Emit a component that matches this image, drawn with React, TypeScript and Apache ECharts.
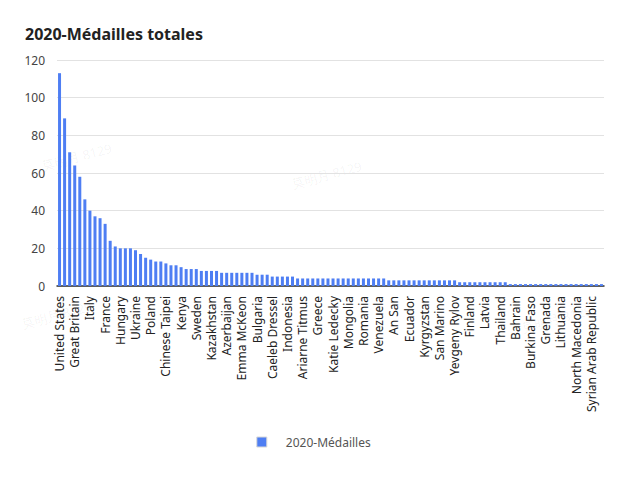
import React, { useEffect, useRef } from "react";
import * as echarts from "echarts";

const categories: string[] = [
  "United States", "China", "ROC", "Great Britain", "Japan", "Australia",
  "Italy", "Germany", "Netherlands", "France", "Canada", "Brazil",
  "Hungary", "New Zealand", "South Korea", "Ukraine", "Spain", "Cuba",
  "Poland", "Switzerland", "Turkey", "Chinese Taipei", "Czech Republic", "Denmark",
  "Kenya", "Jamaica", "Serbia", "Sweden", "Croatia", "Norway",
  "Kazakhstan", "Georgia", "Belarus", "Azerbaijan", "Iran", "Austria",
  "Emma McKeon", "Belgium", "Colombia", "Bulgaria", "Hong Kong", "India",
  "Caeleb Dressel", "Slovenia", "Egypt", "Indonesia", "Israel", "Ethiopia",
  "Ariarne Titmus", "Mexico", "Philippines", "Greece", "Portugal", "Uzbekistan",
  "Katie Ledecky", "Ireland", "Argentina", "Mongolia", "Slovakia", "South Africa",
  "Romania", "Dominican Republic", "Armenia", "Venezuela", "Uganda", "Morocco",
  "An San", "Tunisia", "Estonia", "Ecuador", "Fiji", "Malaysia",
  "Kyrgyzstan", "Nigeria", "Puerto Rico", "San Marino", "Qatar", "Kosovo",
  "Yevgeny Rylov", "Bahamas", "Jordan", "Finland", "Ghana", "Moldova",
  "Latvia", "Saudi Arabia", "Lithuania team", "Thailand", "Austria team", "Botswana",
  "Bahrain", "Namibia", "Turkmenistan", "Burkina Faso", "Côte d'Ivoire", "Kuwait",
  "Grenada", "Bermuda", "Peru", "Lithuania", "Mauritius", "Zambia",
  "North Macedonia", "Vietnam", "Senegal", "Syrian Arab Republic", "Algeria", "Cyprus",
];

const medals: number[] = [
  113, 89, 71, 64, 58, 46,
  40, 37, 36, 33, 24, 21,
  20, 20, 20, 19, 17, 15,
  14, 13, 13, 12, 11, 11,
  10, 9, 9, 9, 8, 8,
  8, 8, 7, 7, 7, 7,
  7, 7, 7, 6, 6, 6,
  5, 5, 5, 5, 5, 4,
  4, 4, 4, 4, 4, 4,
  4, 4, 4, 4, 4, 4,
  4, 4, 4, 4, 4, 3,
  3, 3, 3, 3, 3, 3,
  3, 3, 3, 3, 3, 3,
  3, 2, 2, 2, 2, 2,
  2, 2, 2, 2, 2, 1,
  1, 1, 1, 1, 1, 1,
  1, 1, 1, 1, 1, 1,
  1, 1, 1, 1, 1, 1,
];

const seriesName = "2020-Médailles";
const titleText = "2020-Médailles totales";
const watermark = "莫明月 8129";

export default function App() {
  const ref = useRef<HTMLDivElement>(null);
  useEffect(() => {
    if (!ref.current) return;
    const chart = echarts.init(ref.current, null, { renderer: "svg" });
    const font = "'Noto Sans', 'Microsoft YaHei', sans-serif";
    const wm = [
      { x: 290, y: 178 },
      { x: 40, y: 160 },
      { x: 20, y: 318 },
      { x: 520, y: 322 },
    ];
    chart.setOption({
      animation: false,
      textStyle: { fontFamily: font },
      title: {
        text: titleText,
        left: 20,
        top: 21,
        textStyle: { fontSize: 16, fontWeight: "bold", color: "#222", fontFamily: font },
      },
      legend: {
        bottom: 30,
        left: "center",
        icon: "rect",
        itemWidth: 10,
        itemHeight: 10,
        textStyle: { fontSize: 12, color: "#555", padding: [0, 0, 0, 14] },
        itemStyle: { borderColor: "#d8d8d8", borderWidth: 1 },
      },
      grid: { left: 57, right: 23, top: 60, bottom: 197 },
      xAxis: {
        type: "category",
        data: categories,
        axisLine: { lineStyle: { color: "#333", width: 1.5 } },
        axisTick: { show: false },
        axisLabel: {
          interval: 2,
          rotate: 90,
          fontSize: 12,
          color: "#222",
          margin: 10,
          fontFamily: font,
        },
      },
      yAxis: {
        type: "value",
        min: 0,
        max: 120,
        interval: 20,
        axisLine: { show: false },
        axisTick: { show: false },
        axisLabel: { fontSize: 12, color: "#444", margin: 12, fontFamily: font },
        splitLine: { lineStyle: { color: "#e2e2e2" } },
      },
      series: [
        {
          name: seriesName,
          type: "bar",
          data: medals,
          barWidth: 3,
          itemStyle: { color: "#4e7ef3" },
        },
      ],
      graphic: wm.map((p) => ({
        type: "text",
        x: p.x,
        y: p.y,
        rotation: 0.26,
        silent: true,
        z: -1,
        style: { text: watermark, fill: "rgba(0,0,0,0.05)", fontSize: 13, fontFamily: font },
      })),
    });
    return () => chart.dispose();
  }, []);
  return (
    <div
      ref={ref}
      style={{ position: "absolute", left: 0, top: 0, width: 627, height: 483 }}
    />
  );
}
